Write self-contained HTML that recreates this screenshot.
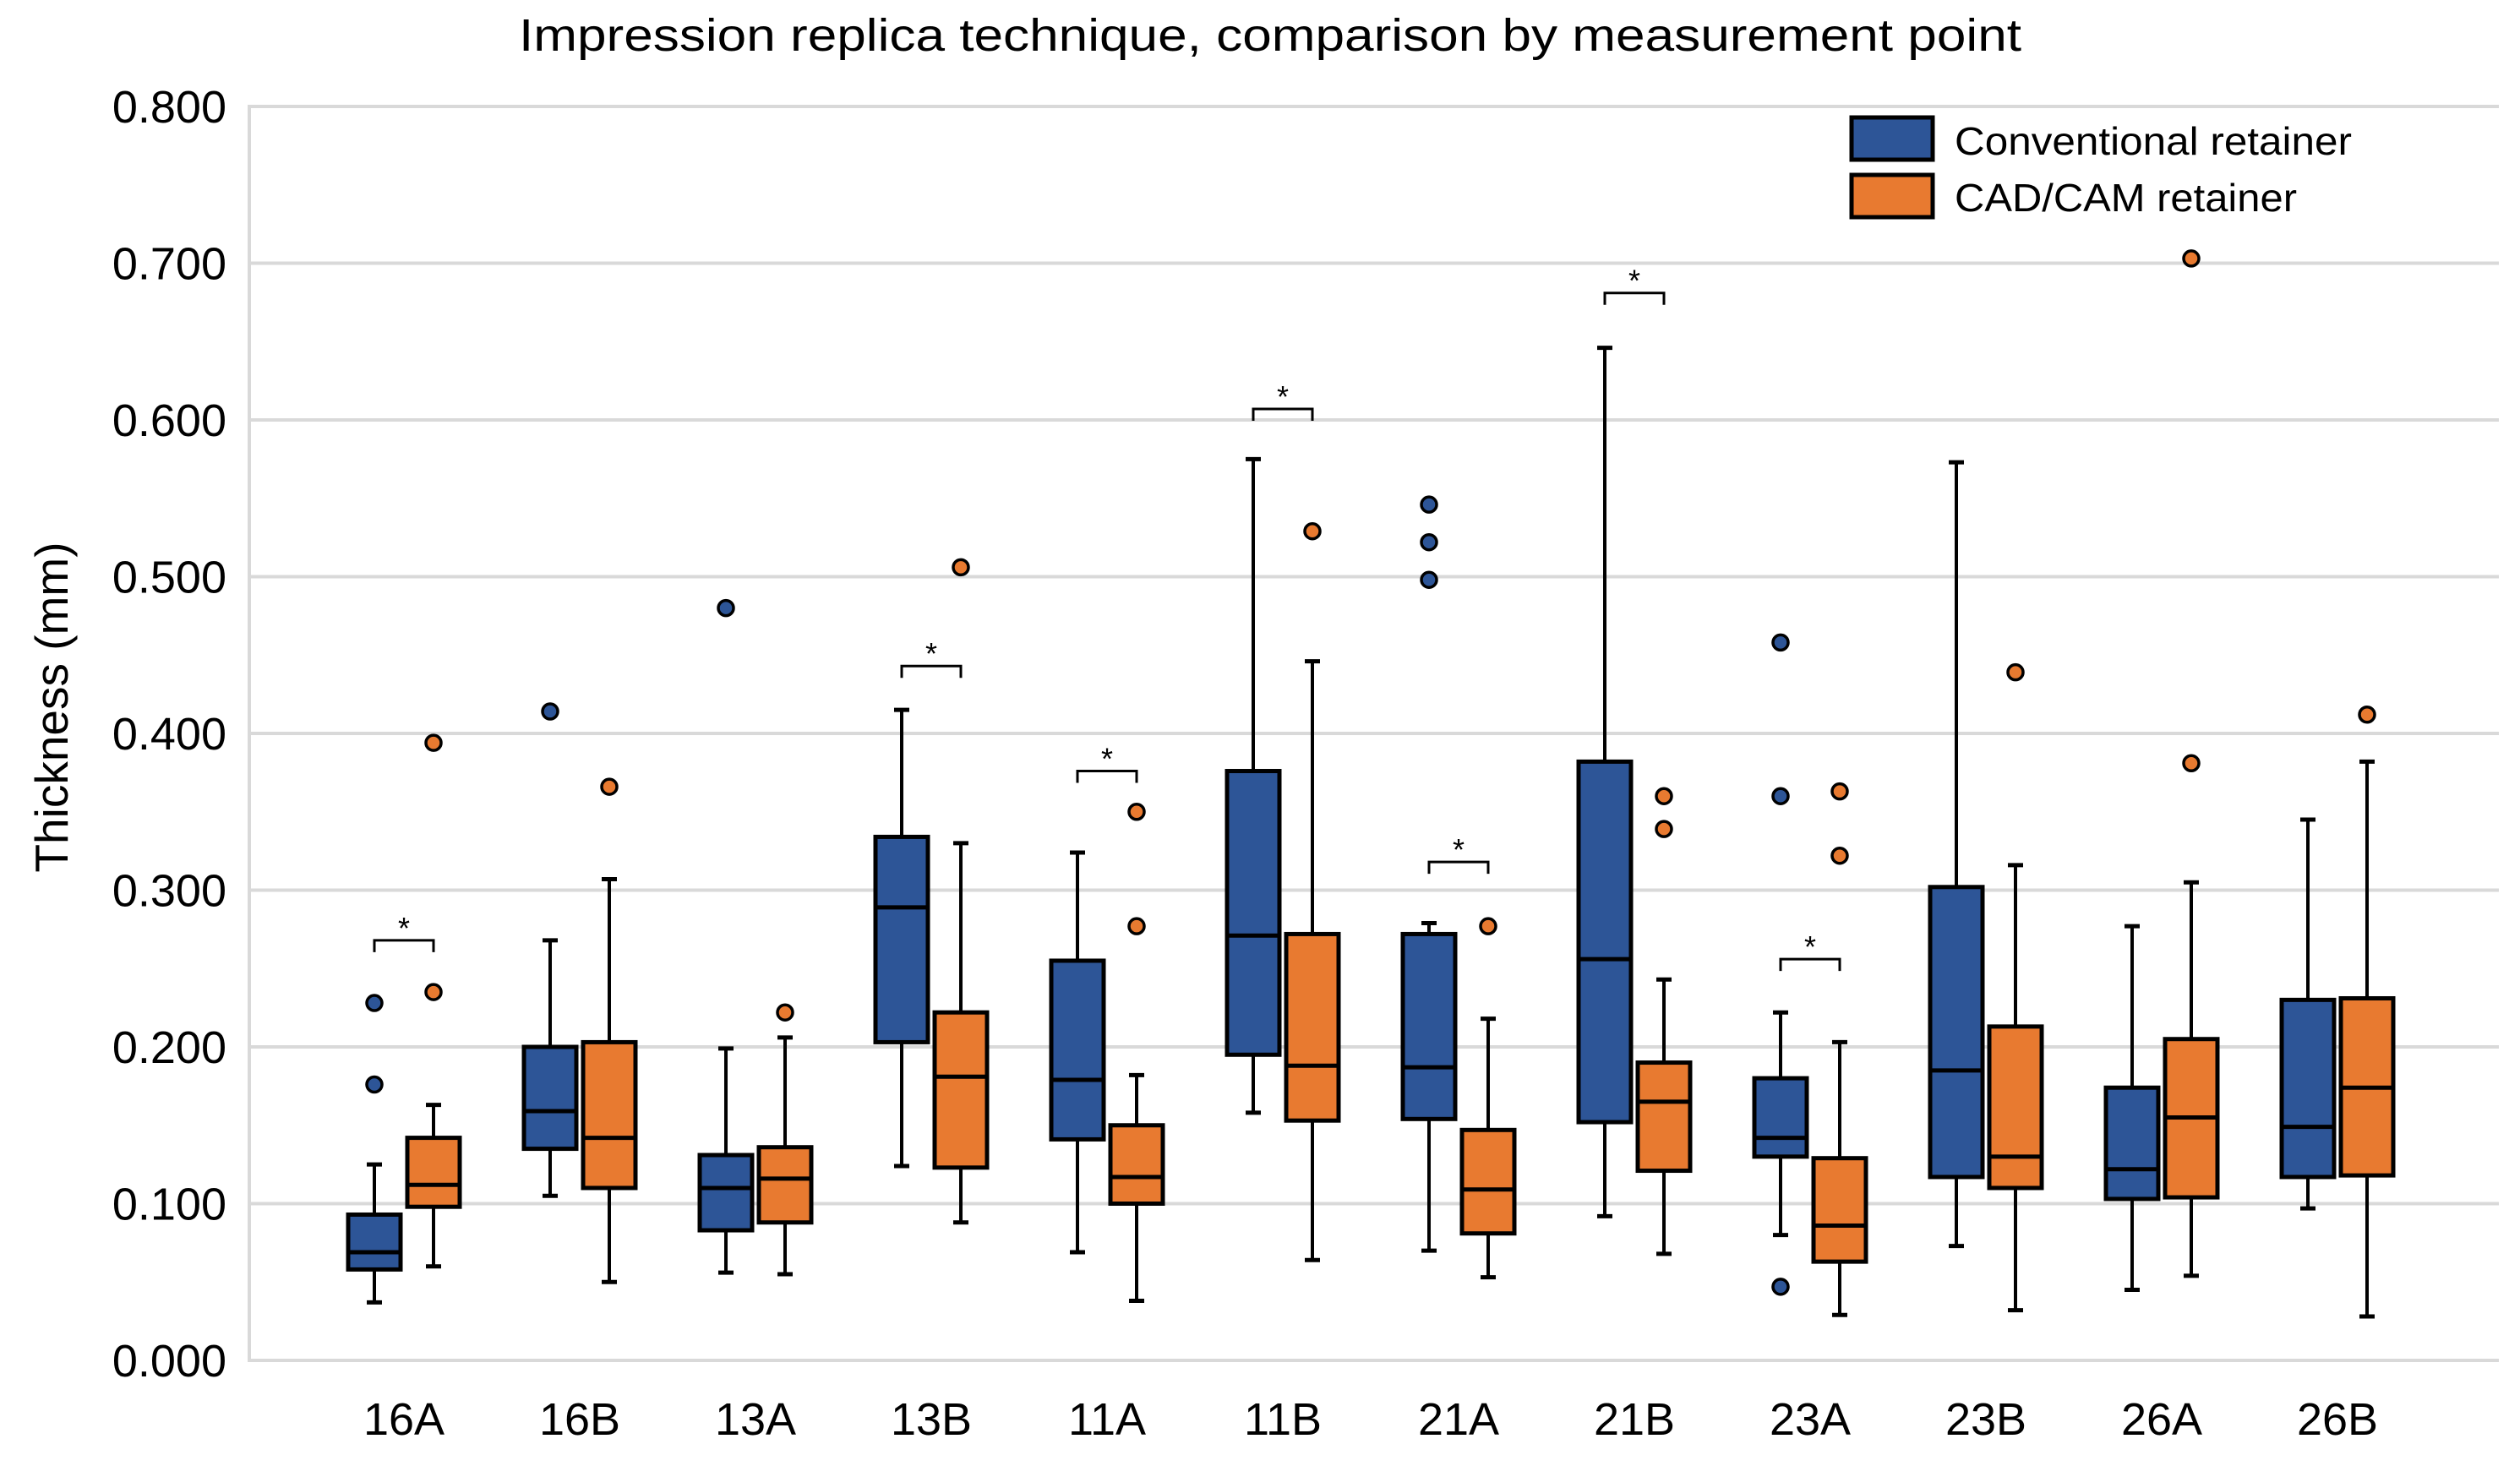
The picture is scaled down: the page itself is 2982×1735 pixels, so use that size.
<!DOCTYPE html>
<html><head><meta charset="utf-8"><style>
html,body{margin:0;padding:0;background:#fff;}
svg{display:block;font-family:"Liberation Sans",Arial,sans-serif;}
</style></head><body>
<svg id="chart" width="2982" height="1735" viewBox="0 0 2982 1735" xmlns="http://www.w3.org/2000/svg">
<rect width="2982" height="1735" fill="#fff"/>
<text x="1503" y="60" font-size="54" text-anchor="middle" textLength="1778" lengthAdjust="spacingAndGlyphs">Impression replica technique, comparison by measurement point</text>
<text transform="translate(80,837) rotate(-90)" font-size="55" text-anchor="middle">Thickness (mm)</text>
<g id="grid"></g>
<g id="marks"></g>
<g>
<rect x="2191" y="139" width="96" height="50" fill="#2d5597" stroke="#000" stroke-width="5"/>
<text x="2313" y="183" font-size="46" textLength="470" lengthAdjust="spacingAndGlyphs">Conventional retainer</text>
<rect x="2191" y="207" width="96" height="50" fill="#e87a30" stroke="#000" stroke-width="5"/>
<text x="2313" y="250" font-size="46" textLength="405" lengthAdjust="spacingAndGlyphs">CAD/CAM retainer</text>
</g>
</svg>
<script>
const categories = ["16A","16B","13A","13B","11A","11B","21A","21B","23A","23B","26A","26B"];
// [whiskerLow, Q1, median, Q3, whiskerHigh]
const conventional = [
 [0.037,0.058,0.069,0.093,0.125],[0.105,0.135,0.159,0.200,0.268],[0.056,0.083,0.110,0.131,0.199],
 [0.124,0.203,0.289,0.334,0.415],[0.069,0.141,0.179,0.255,0.324],[0.158,0.195,0.271,0.376,0.575],
 [0.070,0.154,0.187,0.272,0.279],[0.092,0.152,0.256,0.382,0.646],[0.080,0.130,0.142,0.180,0.222],
 [0.073,0.117,0.185,0.302,0.573],[0.045,0.103,0.122,0.174,0.277],[0.097,0.117,0.149,0.230,0.345]];
const cadcam = [
 [0.060,0.098,0.112,0.142,0.163],[0.050,0.110,0.142,0.203,0.307],[0.055,0.088,0.116,0.136,0.206],
 [0.088,0.123,0.181,0.222,0.330],[0.038,0.100,0.117,0.150,0.182],[0.064,0.153,0.188,0.272,0.446],
 [0.053,0.081,0.109,0.147,0.218],[0.068,0.121,0.165,0.190,0.243],[0.029,0.063,0.086,0.129,0.203],
 [0.032,0.110,0.130,0.213,0.316],[0.054,0.104,0.155,0.205,0.305],[0.028,0.118,0.174,0.231,0.382]];
const conventionalOutliers = [[0.176,0.228],[0.414],[0.480],[],[],[],[0.498,0.522,0.546],[],[0.047,0.360,0.458],[],[],[]];
const cadcamOutliers = [[0.235,0.394],[0.366],[0.222],[0.506],[0.277,0.350],[0.529],[0.277],[0.339,0.360],[0.322,0.363],[0.439],[0.381,0.703],[0.412]];
const significance = [0.268,null,null,0.443,0.376,0.607,0.318,0.681,0.256,null,null,null];
const yTicks = [0,0.1,0.2,0.3,0.4,0.5,0.6,0.7,0.8];
const yTickLabels = ["0.000","0.100","0.200","0.300","0.400","0.500","0.600","0.700","0.800"];

const NS="http://www.w3.org/2000/svg";
const X0=295, X1=2957, Y0=1610, PX_PER=1855;
const y = v => Y0 - v*PX_PER;
const x = i => 478 + i*208;
const BLUE="#2d5597", ORANGE="#e87a30";
function mk(tag, attrs, parent){const e=document.createElementNS(NS,tag);for(const k in attrs)e.setAttribute(k,attrs[k]);parent.appendChild(e);return e;}
const grid=document.getElementById('grid'), marks=document.getElementById('marks');
yTicks.forEach((t,i)=>{
  const l=mk('line',{x1:X0,x2:X1,y1:y(t),y2:y(t),stroke:'#d9d9d9','stroke-width':4},grid);
  
  
  const tx=mk('text',{x:268,y:y(t)+19,'font-size':54,'text-anchor':'end'},grid);
  tx.textContent=yTickLabels[i];
  
  
});
const ax=mk('line',{x1:X0,x2:X0,y1:y(0.8)-2,y2:Y0+2,stroke:'#d9d9d9','stroke-width':4},grid);


function box(cx, s, outs, color, name){
  const g=mk('g',{},marks);
  
  
  const w=62, cap=9;
  mk('line',{x1:cx,x2:cx,y1:y(s[0]),y2:y(s[1]),stroke:'#000','stroke-width':4},g);
  mk('line',{x1:cx,x2:cx,y1:y(s[3]),y2:y(s[4]),stroke:'#000','stroke-width':4},g);
  mk('line',{x1:cx-cap,x2:cx+cap,y1:y(s[0]),y2:y(s[0]),stroke:'#000','stroke-width':5},g);
  mk('line',{x1:cx-cap,x2:cx+cap,y1:y(s[4]),y2:y(s[4]),stroke:'#000','stroke-width':5},g);
  mk('rect',{x:cx-w/2,y:y(s[3]),width:w,height:y(s[1])-y(s[3]),fill:color,stroke:'#000','stroke-width':5},g);
  mk('line',{x1:cx-w/2,x2:cx+w/2,y1:y(s[2]),y2:y(s[2]),stroke:'#000','stroke-width':5},g);
  outs.forEach(o=>{
    const c=mk('circle',{cx:cx,cy:y(o),r:9,fill:color,stroke:'#000','stroke-width':3.5},g);
    
    
  });
}
categories.forEach((c,i)=>{
  const cx=x(i);
  box(cx-35, conventional[i], conventionalOutliers[i], BLUE, 'box-conventional-'+c.toLowerCase());
  box(cx+35, cadcam[i], cadcamOutliers[i], ORANGE, 'box-cadcam-'+c.toLowerCase());
  const t=mk('text',{x:cx,y:1698,'font-size':54,'text-anchor':'middle'},marks);
  t.textContent=c;
  
  
  if(significance[i]!=null){
    const by=y(significance[i]);
    const b=mk('path',{d:`M${cx-35},${by+14} V${by} H${cx+35} V${by+14}`,fill:'none',stroke:'#000','stroke-width':3},marks);
    
    
    const st=mk('text',{x:cx,y:by-2,'font-size':36,'text-anchor':'middle'},marks);
    st.textContent='*';
    
    
  }
});
</script>
</body></html>
